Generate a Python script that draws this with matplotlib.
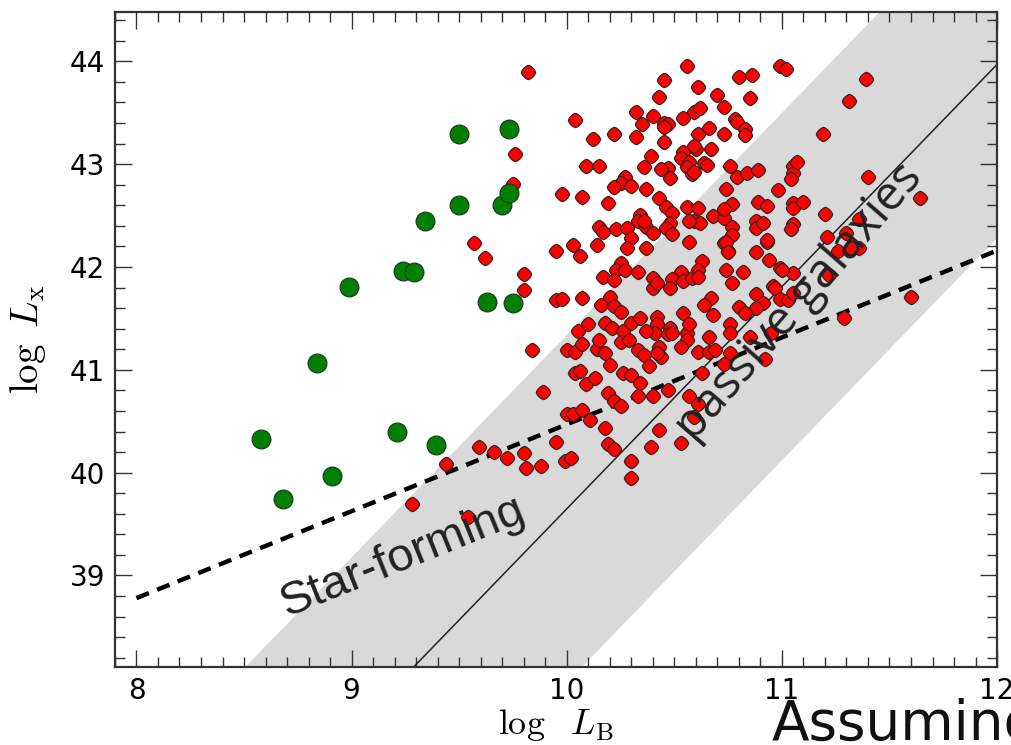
import numpy as np
import matplotlib.pyplot as plt
from matplotlib.path import Path

plt.rcParams['mathtext.fontset'] = 'cm'

# star-forming galaxies: log L_B, log L_X
sf_lb = [8.58, 8.68, 8.84, 8.91, 8.99, 9.21, 9.24, 9.29, 9.34, 9.39,
         9.50, 9.50, 9.63, 9.70, 9.73, 9.73, 9.75]
sf_lx = [40.33, 39.74, 41.07, 39.97, 41.81, 40.40, 41.96, 41.95, 42.45, 40.27,
         42.60, 43.29, 41.66, 42.60, 42.72, 43.34, 41.65]

# passive (early-type) galaxies
pas_lb = [
    9.82, 10.56, 10.45, 10.61, 10.43, 10.80, 10.86, 10.99, 11.02, 10.85,
    10.70, 10.73, 10.04, 10.32, 10.40, 10.35, 10.45, 10.47, 10.45, 10.54,
    10.59, 10.62, 10.78, 10.79, 10.83, 10.83, 10.66, 10.73, 10.61, 10.32,
    10.22, 10.12, 10.45, 9.76, 10.39, 10.54, 10.60, 10.59, 10.67, 11.39,
    11.31, 11.19,
    10.53, 10.57, 10.56, 10.64, 10.65, 10.47, 10.48, 10.44, 10.58, 10.59,
    10.36, 10.09, 10.15, 10.76, 10.79, 10.84, 10.89, 10.27, 10.25, 10.30,
    10.22, 10.37, 10.74, 10.98, 11.05, 11.05, 11.04, 11.07, 9.75, 9.98,
    10.07, 10.19, 11.40, 11.64, 11.20,
    10.43, 10.46, 10.49, 10.56, 10.61, 10.59, 10.62, 10.57, 10.68, 10.73,
    10.77, 10.73, 10.77, 10.77, 10.73, 10.75, 10.89, 10.93, 11.05, 11.05,
    11.05, 11.04, 10.88, 10.88, 11.10, 10.34, 10.33, 10.37, 10.40, 10.36,
    10.48, 10.46, 10.49, 10.15, 10.17, 10.23, 10.28, 10.30, 10.28, 10.37,
    9.95, 10.03, 10.06, 10.14, 10.57, 10.74, 10.75, 10.63, 10.88, 10.93,
    10.94, 10.99, 11.36, 11.21, 11.26, 11.30, 11.36, 11.32, 10.91, 10.93,
    9.62, 9.57,
    11.05, 9.80, 9.80, 10.25, 10.23, 10.27, 10.33, 10.17, 10.22, 10.40,
    10.40, 10.53, 10.49, 10.54, 10.58, 10.61, 10.61, 10.74, 10.77, 10.82,
    10.96, 11.00, 11.22, 10.97, 10.99, 11.03, 11.05, 11.60, 10.42, 10.48,
    10.88, 10.91, 10.88, 10.80, 10.83, 10.67, 10.64, 10.68, 10.54, 10.42,
    10.48, 10.42, 10.41, 10.47, 10.49, 10.56, 10.57, 10.76, 10.76, 10.66,
    10.61, 10.66, 10.69, 10.76, 10.73, 10.85, 10.92, 10.95, 10.56, 10.53,
    10.43, 10.44, 10.42, 11.29, 9.84,
    10.57, 10.61, 10.59, 10.47, 10.63, 10.53, 9.89, 9.59, 9.66, 9.72,
    9.80, 9.81, 9.88, 9.44, 9.28, 9.54,
    9.95, 9.98, 10.07, 10.16, 10.20, 10.22, 10.25, 10.18, 10.21, 10.26,
    10.30, 10.34, 10.37, 10.10, 10.05, 10.00, 10.04, 10.07, 10.14, 10.18,
    10.15, 10.25, 10.29, 10.33, 10.36, 10.38, 10.04, 10.09, 10.13, 10.06,
    10.20, 10.26, 10.30, 10.34, 10.40, 10.19, 10.22, 10.25, 10.33, 10.00,
    10.03, 10.07, 10.11, 10.18, 10.19, 10.22, 10.30, 10.30, 10.39, 10.43,
    9.95, 9.99, 10.02,
]
pas_lx = [
    43.90, 43.95, 43.82, 43.75, 43.65, 43.85, 43.87, 43.95, 43.93, 43.64,
    43.67, 43.56, 43.43, 43.51, 43.47, 43.39, 43.40, 43.39, 43.36, 43.45,
    43.51, 43.55, 43.44, 43.41, 43.34, 43.28, 43.35, 43.29, 43.29, 43.26,
    43.29, 43.24, 43.22, 43.10, 43.08, 43.12, 43.15, 43.18, 43.15, 43.83,
    43.61, 43.29,
    43.06, 43.02, 42.97, 43.01, 42.99, 42.96, 42.87, 42.95, 42.90, 42.92,
    42.97, 42.98, 42.98, 42.98, 42.88, 42.91, 42.94, 42.88, 42.82, 42.79,
    42.78, 42.76, 42.76, 42.75, 42.98, 42.91, 42.86, 43.02, 42.81, 42.71,
    42.68, 42.62, 42.88, 42.67, 42.52,
    42.67, 42.58, 42.53, 42.58, 42.57, 42.45, 42.43, 42.45, 42.50, 42.48,
    42.61, 42.56, 42.39, 42.31, 42.23, 42.16, 42.63, 42.59, 42.62, 42.57,
    42.42, 42.37, 42.45, 42.38, 42.63, 42.51, 42.45, 42.39, 42.33, 42.45,
    42.43, 42.38, 42.32, 42.39, 42.34, 42.37, 42.38, 42.28, 42.18, 42.18,
    42.16, 42.21, 42.11, 42.21, 42.24, 42.24, 42.15, 42.06, 42.15, 42.24,
    42.07, 41.99, 42.47, 42.29, 42.16, 42.33, 42.18, 42.18, 42.43, 42.26,
    42.09, 42.23,
    41.94, 41.93, 41.78, 42.04, 41.97, 41.97, 41.95, 41.90, 41.87, 41.89,
    41.80, 41.95, 41.88, 41.86, 41.89, 41.97, 41.90, 41.97, 41.84, 41.95,
    41.82, 41.97, 41.92, 41.80, 41.69, 41.68, 41.75, 41.71, 41.84, 41.80,
    41.74, 41.65, 41.60, 41.61, 41.55, 41.70, 41.63, 41.53, 41.55, 41.51,
    41.41, 41.45, 41.36, 41.35, 41.36, 41.36, 41.45, 41.45, 41.36, 41.32,
    41.17, 41.17, 41.19, 41.16, 41.06, 41.32, 41.11, 41.36, 41.29, 41.22,
    41.22, 41.12, 41.16, 41.50, 41.19,
    40.75, 40.67, 40.54, 40.80, 40.97, 40.29, 40.78, 40.25, 40.20, 40.14,
    40.19, 40.05, 40.06, 40.08, 39.70, 39.57,
    41.68, 41.69, 41.70, 41.63, 41.71, 41.62, 41.56, 41.46, 41.41, 41.38,
    41.46, 41.50, 41.38, 41.45, 41.38, 41.19, 41.17, 41.25, 41.20, 41.16,
    41.29, 41.27, 41.29, 41.19, 41.14, 41.04, 40.97, 40.86, 40.92, 40.99,
    41.05, 40.97, 40.95, 40.87, 40.75, 40.77, 40.70, 40.65, 40.75, 40.57,
    40.57, 40.61, 40.51, 40.43, 40.28, 40.23, 40.11, 39.95, 40.25, 40.41,
    40.30, 40.11, 40.14,
]

# L_X - L_B relation of passive galaxies with its spread
rel_lb = [7.9, 12.0]
rel_lx = [35.11, 43.97]
band_lo = [33.42, 42.28]
band_hi = [36.80, 45.66]

# expected X-ray output from star formation
sfr_lb = [8.0, 10.0, 12.0]
sfr_lx = [38.78, 40.47, 42.16]

# diamond with softened corners (superellipse)
t = np.linspace(0, 2 * np.pi, 73)
c, s = np.cos(t), np.sin(t)
p = 1.45
soft_diamond = Path(np.column_stack([np.sign(c) * np.abs(c) ** (2 / p),
                                     np.sign(s) * np.abs(s) ** (2 / p)]),
                    closed=True)

fig = plt.figure(figsize=(10.11, 7.45), dpi=100)
ax = fig.add_axes([0.1137, 0.1047, 0.8725, 0.8792])

ax.fill_between(rel_lb, band_lo, band_hi, color='#d9d9d9', lw=0, zorder=1)
ax.plot(rel_lb, rel_lx, color='#222222', lw=1.1, zorder=2)
ax.plot(sfr_lb, sfr_lx, color='black', lw=3.2, dashes=(3, 2), zorder=2)

ax.plot(pas_lb, pas_lx, ls='none', marker=soft_diamond, ms=10.2,
        mfc='#ff0000', mec='#3a2020', mew=0.9, zorder=3)
ax.plot(sf_lb, sf_lx, ls='none', marker='o', ms=13.5, mfc='#008000',
        mec='#1f3a1f', mew=0.9, zorder=4)

ax.text(9.24, 39.18, 'Star-forming', rotation=22, ha='center', va='center',
        fontsize=34, family='Liberation Sans', color='#222222', zorder=5)
ax.text(11.08, 41.66, 'passive galaxies', rotation=49, ha='center', va='center',
        fontsize=34, family='Open Sans', color='#222222', zorder=5)

ax.set_xlim(7.9, 12.0)
ax.set_ylim(38.11, 44.48)
ax.set_xticks([8, 9, 10, 11, 12])
ax.set_yticks([39, 40, 41, 42, 43, 44])
ax.xaxis.set_minor_locator(plt.MultipleLocator(0.1))
ax.yaxis.set_minor_locator(plt.MultipleLocator(0.2))
ax.tick_params(which='both', direction='in', top=True, right=True,
               color='#333333', width=1.0)
ax.tick_params(which='major', length=12, labelsize=20, pad=7)
ax.tick_params(which='minor', length=7)
for sp in ax.spines.values():
    sp.set_linewidth(1.6)
    sp.set_color('#333333')

ax.set_xlabel(r'$\log\ \ L_{\rm B}$', fontsize=26, labelpad=2)
ax.set_ylabel(r'$\log\ L_{\rm x}$', fontsize=28, labelpad=16)

fig.text(0.7636, 0.0067, 'Assuming', fontsize=39.5, family='DejaVu Sans',
         va='baseline', color='#111111')

plt.savefig('out.png', dpi=100)
plt.close()
